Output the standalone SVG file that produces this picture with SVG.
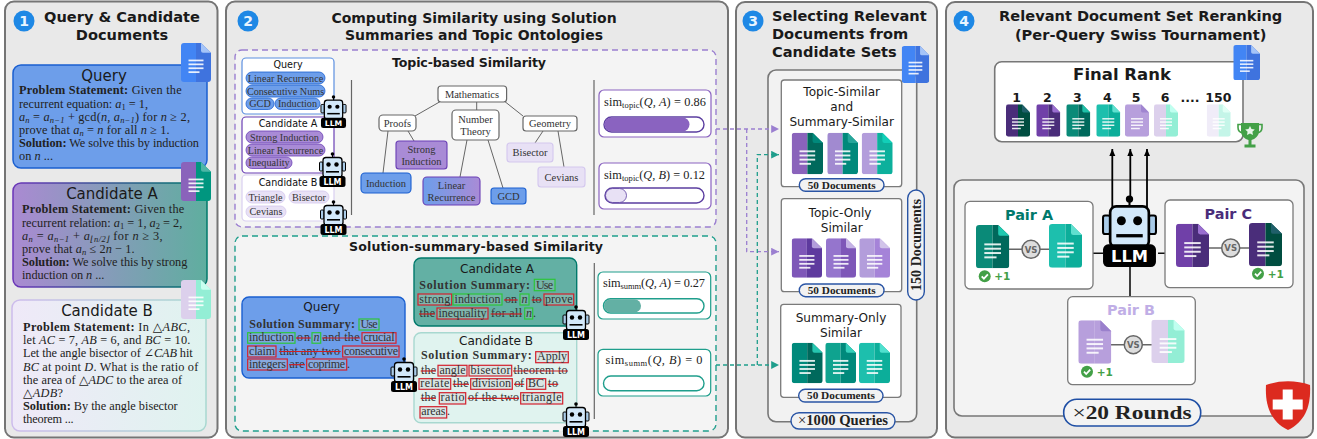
<svg xmlns="http://www.w3.org/2000/svg" width="1317" height="439" viewBox="0 0 1317 439">
<style>
text{font-family:"DejaVu Sans",sans-serif;fill:#1a1a1a}
.panel{fill:#e9e9e9;stroke:#757575;stroke-width:2}
.num{fill:#1e88e5}
.numt{fill:#e8f4ff;font-size:14px;font-weight:bold;text-anchor:middle}
.ttl{font-size:14px;font-weight:bold;text-anchor:middle}
.ttlb{font-size:14.6px;font-weight:bold;text-anchor:middle}
.ttl3{font-size:14.6px;font-weight:bold}
.h{font-size:15px;text-anchor:middle}
.h2{font-size:12.1px;text-anchor:middle}
.sub{font-size:12.6px;font-weight:bold;text-anchor:middle}
.s{font-family:"Liberation Serif","DejaVu Serif",serif;font-size:12.3px;fill:#222}
.b{font-weight:bold}
.i{font-style:italic}
.u{font-size:8.5px}
.tag{font-size:9.6px;text-anchor:middle;fill:#111}
.p{font-family:"Liberation Serif","DejaVu Serif",serif;font-size:10.2px;text-anchor:middle;fill:#333}
.n{font-family:"Liberation Serif","DejaVu Serif",serif;font-size:10.5px;text-anchor:middle;fill:#333}
.wg{fill:#b8c4b8;fill-opacity:.22;stroke:#2cc53a;stroke-width:1.2}
.wr{fill:#c8c8c8;fill-opacity:.3;stroke:#d3212d;stroke-width:1.2}
.st{stroke:#cc1f25;stroke-width:1.2}
.w{font-family:"Liberation Serif","DejaVu Serif",serif;font-size:12px;fill:#333}
.box{fill:#fff;stroke:#7a7a7a;stroke-width:1.3}
.tn{fill:#fff;stroke:#666;stroke-width:1.2}
.dv{stroke:#666;stroke-width:1.2}
.ed{stroke:#666;stroke-width:1}
.pl{fill:#f2f2f2;stroke:#2a55a5;stroke-width:1.4}
.plt{font-family:"Liberation Serif","DejaVu Serif",serif;font-weight:bold;text-anchor:middle;fill:#222}
.vs{fill:#ddd;stroke:#666;stroke-width:1.5}
.vst{font-size:8.5px;font-weight:bold;text-anchor:middle;fill:#666}
.vl{stroke:#666;stroke-width:1.5}
.pt{font-size:14.4px;font-weight:bold;text-anchor:middle}
.pls{font-size:10.5px;font-weight:bold;fill:#43a047}
.chk{fill:#43a047}
.cm{fill:none;stroke:#fff;stroke-width:1.8}
.arr{stroke:#000;stroke-width:1.8;fill:none}
.rl{stroke:#111;stroke-width:1.6}
</style>
<defs>
<symbol id="doc" viewBox="0 0 30 40" preserveAspectRatio="none">
<path d="M3 0H15V40H3a3 3 0 0 1-3-3V3a3 3 0 0 1 3-3z" style="fill:var(--l)"/>
<path d="M15 0H20L30 10V37a3 3 0 0 1-3 3H15z" style="fill:var(--r)"/>
<path d="M20 0L30 10H22a2 2 0 0 1-2-2z" style="fill:var(--f)"/>
<g fill="#fff" fill-opacity=".88"><rect x="7.5" y="17" width="15" height="1.8"/><rect x="7.5" y="21" width="15" height="1.8"/><rect x="7.5" y="25" width="15" height="1.8"/><rect x="7.5" y="29" width="11" height="1.8"/></g>
</symbol>
<symbol id="bot" viewBox="0 0 28 35" preserveAspectRatio="none">
<path d="M14 2V6" stroke="#000" stroke-width="1"/><circle cx="14" cy="2" r="1.8" fill="#000"/>
<rect x="1" y="10" width="3.5" height="9" rx="1" fill="#a9cbe8" stroke="#000"/><rect x="23.5" y="10" width="3.5" height="9" rx="1" fill="#a9cbe8" stroke="#000"/>
<rect x="4.5" y="5.5" width="19" height="20" rx="3" fill="#d2e8fa" stroke="#000" stroke-width="1.3"/>
<circle cx="10" cy="12.5" r="2.2" fill="#000"/><circle cx="18" cy="12.5" r="2.2" fill="#000"/><rect x="7.5" y="19" width="13" height="1.6" fill="#000"/>
<rect x="1" y="24" width="26" height="11" rx="2.5" fill="#000"/>
<text x="14" y="32.6" style="font-size:8px;font-weight:bold;fill:#fff;text-anchor:middle">LLM</text>
</symbol>
<linearGradient id="ga"><stop offset="0" stop-color="#aa8ad2"/><stop offset="1" stop-color="#5fae9f"/></linearGradient>
<linearGradient id="gas"><stop offset="0" stop-color="#6a35b8"/><stop offset="1" stop-color="#00796b"/></linearGradient>
<linearGradient id="gb"><stop offset="0" stop-color="#efe9f8"/><stop offset="1" stop-color="#dff3ef"/></linearGradient>
<linearGradient id="gbs"><stop offset="0" stop-color="#cdbcec"/><stop offset="1" stop-color="#a8d8d0"/></linearGradient>
<linearGradient id="gl"><stop offset="0" stop-color="#6d9eea"/><stop offset="1" stop-color="#a98bd6"/></linearGradient>
<marker id="ap" markerWidth="7" markerHeight="6" refX="6" refY="3" orient="auto"><path d="M0 0L6 3L0 6z" fill="#9b7fd0"/></marker>
<marker id="at" markerWidth="7" markerHeight="6" refX="6" refY="3" orient="auto"><path d="M0 0L6 3L0 6z" fill="#1f9e8c"/></marker>
<marker id="ab" markerWidth="8" markerHeight="7" refX="7" refY="3" orient="auto" markerUnits="userSpaceOnUse"><path d="M0 0L7 3L0 6z" fill="#000"/></marker>
</defs>

<g id="panel1">
<rect class="panel" x="5" y="1.5" width="212.5" height="436" rx="9"/>
<circle class="num" cx="24" cy="21" r="10.5"/><text class="numt" x="24" y="26">1</text>
<text class="ttlb" x="122" y="22">Query &amp; Candidate</text>
<text class="ttlb" x="122" y="40">Documents</text>
</g>
<g id="node-query">
<rect x="13" y="65" width="194" height="103" rx="8" fill="#6d9eea" stroke="#1a5fd0" stroke-width="1.5"/>
<text class="h" x="104" y="81">Query</text>
<text class="s" x="19" y="94" textLength="162.7"><tspan class="b">Problem Statement:</tspan> Given the</text>
<text class="s" x="19" y="107.5" textLength="129">recurrent equation: <tspan class="i">a</tspan><tspan class="u" dy="2">1</tspan><tspan dy="-2"> = 1,</tspan></text>
<text class="s" x="19" y="120.5" textLength="171"><tspan class="i">a</tspan><tspan class="u i" dy="2">n</tspan><tspan dy="-2"> = </tspan><tspan class="i">a</tspan><tspan class="u i" dy="2">n−1</tspan><tspan dy="-2"> + gcd(</tspan><tspan class="i">n, a</tspan><tspan class="u i" dy="2">n−1</tspan><tspan dy="-2">) for </tspan><tspan class="i">n</tspan> ≥ 2,</text>
<text class="s" x="19" y="134" textLength="150.7">prove that <tspan class="i">a</tspan><tspan class="u i" dy="2">n</tspan><tspan dy="-2"> = </tspan><tspan class="i">n</tspan> for all <tspan class="i">n</tspan> ≥ 1.</text>
<text class="s" x="19" y="147" textLength="180"><tspan class="b">Solution:</tspan> We solve this by induction</text>
<text class="s" x="19" y="160" textLength="34">on <tspan class="i">n</tspan> ...</text>
<use href="#doc" x="181" y="43" width="30" height="39" style="--l:#4285f4;--r:#3f73de;--f:#a5c4f8"/>
</g>
<g id="node-candidate-a">
<rect x="13" y="183" width="194" height="104" rx="8" fill="url(#ga)" stroke="url(#gas)" stroke-width="1.5"/>
<text class="h" x="112" y="199">Candidate A</text>
<text class="s" x="22" y="213" textLength="162.3"><tspan class="b">Problem Statement:</tspan> Given the</text>
<text class="s" x="22" y="226.7" textLength="160.3">recurrent relation: <tspan class="i">a</tspan><tspan class="u" dy="2">1</tspan><tspan dy="-2"> = 1, </tspan><tspan class="i">a</tspan><tspan class="u" dy="2">2</tspan><tspan dy="-2"> = 2,</tspan></text>
<text class="s" x="22" y="240" textLength="140.7"><tspan class="i">a</tspan><tspan class="u i" dy="2">n</tspan><tspan dy="-2"> = </tspan><tspan class="i">a</tspan><tspan class="u i" dy="2">n−1</tspan><tspan dy="-2"> + </tspan><tspan class="i">a</tspan><tspan class="u i" dy="2">⌊n/2⌋</tspan><tspan dy="-2"> for </tspan><tspan class="i">n</tspan> ≥ 3,</text>
<text class="s" x="22" y="252.7" textLength="112.7">prove that <tspan class="i">a</tspan><tspan class="u i" dy="2">n</tspan><tspan dy="-2"> ≤ 2</tspan><tspan class="i">n</tspan> − 1.</text>
<text class="s" x="22" y="265.7" textLength="165.3"><tspan class="b">Solution:</tspan> We solve this by strong</text>
<text class="s" x="22" y="278.7" textLength="82.3">induction on <tspan class="i">n</tspan> ...</text>
<use href="#doc" x="181" y="162" width="30" height="39" style="--l:#8a63bb;--r:#00967f;--f:#4db6a6"/>
</g>
<g id="node-candidate-b">
<rect x="12" y="300" width="194" height="131" rx="8" fill="url(#gb)" stroke="url(#gbs)" stroke-width="1.5"/>
<text class="h" x="107" y="316">Candidate B</text>
<text class="s" x="23" y="331" textLength="167"><tspan class="b">Problem Statement:</tspan> In △<tspan class="i">ABC</tspan>,</text>
<text class="s" x="23" y="344.3" textLength="167.3">let <tspan class="i">AC</tspan> = 7, <tspan class="i">AB</tspan> = 6, and <tspan class="i">BC</tspan> = 10.</text>
<text class="s" x="23" y="357.3" textLength="169.7">Let the angle bisector of ∠<tspan class="i">CAB</tspan> hit</text>
<text class="s" x="23" y="370.7" textLength="175.3"><tspan class="i">BC</tspan> at point <tspan class="i">D</tspan>. What is the ratio of</text>
<text class="s" x="23" y="383.7" textLength="159">the area of △<tspan class="i">ADC</tspan> to the area of</text>
<text class="s" x="23" y="396.7" textLength="40">△<tspan class="i">ADB</tspan>?</text>
<text class="s" x="23" y="410" textLength="154.7"><tspan class="b">Solution:</tspan> By the angle bisector</text>
<text class="s" x="23" y="423" textLength="50.7">theorem ...</text>
<use href="#doc" x="181" y="280" width="30" height="39" style="--l:#dcd0ec;--r:#93eed5;--f:#c8fff0"/>
</g>

<g id="panel2">
<rect class="panel" x="226" y="1.5" width="502" height="436" rx="9"/>
<circle class="num" cx="248" cy="21" r="10.5"/><text class="numt" x="248" y="26">2</text>
<text class="ttl" x="474" y="23">Computing Similarity using Solution</text>
<text class="ttl" x="474" y="40">Summaries and Topic Ontologies</text>
<rect x="235" y="50" width="481" height="177" rx="7" fill="#f4f4f4" stroke="#9b7fd0" stroke-width="1.4" stroke-dasharray="6 4"/>
<rect x="235" y="236" width="481" height="195" rx="7" fill="#f4f4f4" stroke="#1f9e8c" stroke-width="1.4" stroke-dasharray="6 4"/>
<text class="sub" x="469" y="66.5" textLength="154">Topic-based Similarity</text>
<text class="sub" x="476" y="251" textLength="254">Solution-summary-based Similarity</text>
<path class="dv" d="M351.5 80V215M594 80V215M594.3 263V419" fill="none"/>
</g>
<g id="tags-query">
<rect x="242" y="58" width="92" height="56" rx="4" fill="#fff" stroke="#5c8fe0" stroke-width="1.2"/>
<text class="tag" x="288" y="68">Query</text>
<g fill="#6d9eea" stroke="#1a5fd0" stroke-width=".8">
<rect x="246" y="72" width="79" height="12" rx="6"/><rect x="246" y="85" width="79" height="12" rx="6"/><rect x="246" y="98" width="28" height="11.5" rx="5.7"/><rect x="275" y="98" width="45" height="11.5" rx="5.7"/></g>
<text class="p" x="285.5" y="81.500">Linear Recurrence</text><text class="p" x="285.5" y="94.500">Consecutive Nums</text><text class="p" x="260" y="107">GCD</text><text class="p" x="297.5" y="107">Induction</text>
</g>
<g id="tags-candidate-a">
<rect x="242" y="117" width="92" height="56" rx="4" fill="#fff" stroke="#6a3fb5" stroke-width="1.2"/>
<text class="tag" x="288" y="127">Candidate A</text>
<g fill="#a98bd6" stroke="#6a3fb5" stroke-width=".8">
<rect x="246" y="131" width="77" height="12" rx="6"/><rect x="246" y="144" width="79" height="12" rx="6"/><rect x="246" y="157" width="46" height="11.5" rx="5.7"/></g>
<text class="p" x="284.5" y="140.500">Strong Induction</text><text class="p" x="285.5" y="153.500">Linear Recurrence</text><text class="p" x="269" y="166">Inequality</text>
</g>
<g id="tags-candidate-b">
<rect x="242" y="175" width="92" height="46" rx="4" fill="#fff" stroke="#d9cff0" stroke-width="1.2"/>
<text class="tag" x="288" y="186">Candidate B</text>
<g fill="#e8e1f5" stroke="#d3c7ee" stroke-width=".8">
<rect x="246" y="191" width="39" height="12" rx="6"/><rect x="289" y="191" width="40" height="12" rx="6"/><rect x="246" y="206" width="40" height="11.5" rx="5.7"/></g>
<text class="p" x="265.5" y="200.500">Triangle</text><text class="p" x="309" y="200.500">Bisector</text><text class="p" x="266" y="215">Cevians</text>
</g>
<use id="bot-query-tags" href="#bot" x="320" y="95" width="27" height="33"/>
<use id="bot-a-tags" href="#bot" x="318.5" y="152" width="28" height="35"/>
<use id="bot-b-tags" href="#bot" x="319.5" y="200" width="28" height="35"/>

<g id="tree-edges">
<path class="ed" d="M440 101.7L415 116M476.7 102V110M505 101.7L523 116M388 131L383 173M408 131L414 141M467 140L460 177M488 140L503 188M543 131L535 143M558 131L564 167"/>
</g>
<g id="node-mathematics"><rect class="tn" x="438" y="86" width="68.600" height="16" rx="3"/><text class="n" x="472" y="97.500">Mathematics</text></g>
<g id="node-proofs"><rect class="tn" x="379" y="115" width="37" height="16" rx="4"/><text class="n" x="397.500" y="126.500">Proofs</text></g>
<g id="node-number-theory"><rect class="tn" x="452" y="110" width="47" height="30" rx="4"/><text class="n" x="475.500" y="122.500">Number</text><text class="n" x="475.500" y="134.500">Theory</text></g>
<g id="node-geometry"><rect class="tn" x="523" y="116" width="54" height="15" rx="3"/><text class="n" x="550" y="127">Geometry</text></g>
<g id="node-strong-induction"><rect x="396" y="141" width="51" height="28" rx="3" fill="#a98bd6" stroke="#6a3fb5" stroke-width="1.1"/><text class="n" x="421.500" y="153">Strong</text><text class="n" x="421.500" y="165">Induction</text></g>
<g id="node-induction"><rect x="361" y="173" width="50" height="20" rx="4" fill="#6d9eea" stroke="#1a5fd0" stroke-width="1.1"/><text class="n" x="386" y="186.500">Induction</text></g>
<g id="node-linear-recurrence"><rect x="423" y="177" width="57" height="28" rx="4" fill="url(#gl)" stroke="#6a3fb5" stroke-width="1.1"/><text class="n" x="451.500" y="189">Linear</text><text class="n" x="451.500" y="201">Recurrence</text></g>
<g id="node-gcd"><rect x="491" y="188" width="35" height="16" rx="3" fill="#6d9eea" stroke="#1a5fd0" stroke-width="1.1"/><text class="n" x="508.500" y="199.500">GCD</text></g>
<g id="node-bisector"><rect x="507" y="143" width="46" height="19" rx="3" fill="#e8e1f5" stroke="#d3c7ee" stroke-width="1.1"/><text class="n" x="530" y="156">Bisector</text></g>
<g id="node-cevians"><rect x="538" y="167" width="47" height="20" rx="3" fill="#e8e1f5" stroke="#d3c7ee" stroke-width="1.1"/><text class="n" x="561.500" y="180.500">Cevians</text></g>

<g id="sim-topic-a">
<rect x="599" y="90" width="112" height="47" rx="5" fill="#fff" stroke="#8a63c0" stroke-width="1.2"/>
<text class="s" x="604" y="105.700" textLength="102">sim<tspan class="u" dy="2">topic</tspan><tspan dy="-2">(</tspan><tspan class="i">Q, A</tspan>) = 0.86</text>
<rect x="604" y="117" width="100" height="15" rx="7.500" fill="#fff" stroke="#5b3ea0" stroke-width="1.4"/>
<rect x="604.500" y="117.500" width="85" height="14" rx="7" fill="#8a63c0"/>
</g>
<g id="sim-topic-b">
<rect x="599" y="163" width="112" height="46" rx="5" fill="#fff" stroke="#8a63c0" stroke-width="1.2"/>
<text class="s" x="604" y="179" textLength="101">sim<tspan class="u" dy="2">topic</tspan><tspan dy="-2">(</tspan><tspan class="i">Q, B</tspan>) = 0.12</text>
<rect x="605" y="188" width="99" height="15" rx="7.500" fill="#fff" stroke="#5b3ea0" stroke-width="1.4"/>
<rect x="605.500" y="188.500" width="21" height="14" rx="7" fill="#e8e1f5" stroke="#5b3ea0" stroke-width=".8"/>
</g>
<g id="sim-summ-a">
<rect x="598" y="272" width="112.700" height="47" rx="5" fill="#fff" stroke="#1f9e8c" stroke-width="1.2"/>
<text class="s" x="603" y="287" textLength="102">sim<tspan class="u" dy="2">summ</tspan><tspan dy="-2">(</tspan><tspan class="i">Q, A</tspan>) = 0.27</text>
<rect x="603.500" y="298.700" width="100.500" height="14.300" rx="7.100" fill="#fff" stroke="#1f9e8c" stroke-width="1.4"/>
<rect x="604" y="299.200" width="37" height="13.300" rx="6.600" fill="#63b0a4"/>
</g>
<g id="sim-summ-b">
<rect x="598" y="349.300" width="112.700" height="46.700" rx="5" fill="#fff" stroke="#1f9e8c" stroke-width="1.2"/>
<text class="s" x="605.500" y="364" textLength="97">sim<tspan class="u" dy="2">summ</tspan><tspan dy="-2">(</tspan><tspan class="i">Q, B</tspan>) = 0</text>
<rect x="603.500" y="376" width="100.500" height="14.700" rx="7.300" fill="#fff" stroke="#1f9e8c" stroke-width="1.4"/>
</g>

<g id="summary-query">
<rect x="242" y="297" width="163" height="81" rx="7" fill="#6d9eea" stroke="#1a5fd0" stroke-width="1.4"/>
<text class="h2" x="321.600" y="311">Query</text>
<text class="w b" x="249.300" y="328" textLength="105.700">Solution Summary:</text>
<rect class="wg" x="359" y="319" width="20" height="11"/><text class="w" x="360.500" y="328" textLength="17">Use</text>
<rect class="wg" x="247.700" y="332.700" width="47.300" height="10.500"/><text class="w" x="249" y="341" textLength="45">induction</text>
<text class="w" x="297" y="341" textLength="13">on</text><path class="st" d="M296 338H310.700"/>
<rect class="wg" x="312" y="332.700" width="8.700" height="10.500"/><text class="w i" x="313.500" y="341">n</text>
<text class="w" x="322.500" y="341" textLength="37">and the</text><path class="st" d="M322 338H360"/>
<rect class="wr" x="362" y="332.700" width="34" height="10.500"/><text class="w" x="363.500" y="341" textLength="31">crucial</text>
<rect class="wr" x="247.700" y="346" width="28.300" height="11"/><text class="w" x="249" y="354.500" textLength="26">claim</text>
<text class="w" x="279.500" y="354.500" textLength="60.500">that any two</text><path class="st" d="M279 351.500H340.700"/>
<rect class="wr" x="342.700" y="346" width="56.300" height="11"/><text class="w" x="344" y="354.500" textLength="54">consecutive</text>
<rect class="wr" x="247.700" y="359" width="39.600" height="11"/><text class="w" x="249" y="367.700" textLength="37">integers</text>
<text class="w" x="289.500" y="367.700" textLength="15">are</text><path class="st" d="M289 364.700H305"/>
<rect class="wr" x="306.700" y="359" width="40" height="11"/><text class="w" x="308" y="367.700" textLength="37">coprime</text><text class="w" x="347" y="367.700">.</text>
</g>
<g id="summary-candidate-a">
<rect x="414" y="258" width="162.700" height="68" rx="7" fill="#63b0a4" stroke="#00796b" stroke-width="1.4"/>
<text class="h2" x="497" y="273">Candidate A</text>
<text class="w b" x="419.300" y="288.700" textLength="110.700">Solution Summary:</text>
<rect class="wg" x="534.300" y="279.300" width="20.700" height="11.400"/><text class="w" x="536" y="288.700" textLength="17">Use</text>
<rect class="wr" x="418" y="294" width="33.700" height="11"/><text class="w" x="419.300" y="303" textLength="31">strong</text>
<rect class="wg" x="453" y="294" width="49" height="11"/><text class="w" x="454.500" y="303" textLength="46">induction</text>
<text class="w" x="505" y="303" textLength="12">on</text><path class="st" d="M504 300H517.700"/>
<rect class="wg" x="520" y="294" width="9" height="11"/><text class="w i" x="521.500" y="303">n</text>
<text class="w" x="532" y="303" textLength="9.500">to</text><path class="st" d="M531.700 300H541.700"/>
<rect class="wr" x="544" y="294" width="29.700" height="11"/><text class="w" x="545" y="303" textLength="27.500">prove</text>
<text class="w" x="419.500" y="317" textLength="15.500">the</text><path class="st" d="M419 314H435"/>
<rect class="wr" x="437" y="308" width="51" height="11"/><text class="w" x="438.500" y="317" textLength="48">inequality</text>
<text class="w" x="491" y="317" textLength="31">for all</text><path class="st" d="M490.700 314H522"/>
<rect class="wg" x="524.700" y="308" width="8" height="11"/><text class="w i" x="526" y="317">n</text><text class="w" x="533" y="317">.</text>
</g>
<g id="summary-candidate-b">
<rect x="414" y="332.700" width="162.700" height="90" rx="7" fill="#e0f3ef" stroke="#a8d8d0" stroke-width="1.4"/>
<text class="h2" x="496" y="345">Candidate B</text>
<text class="w b" x="421" y="359.300" textLength="110.700">Solution Summary:</text>
<rect class="wr" x="535.700" y="351.700" width="32.600" height="11"/><text class="w" x="537" y="360" textLength="30">Apply</text>
<text class="w" x="421" y="374" textLength="15">the</text><path class="st" d="M420.700 371H436"/>
<rect class="wr" x="438" y="365.300" width="29" height="10.700"/><text class="w" x="439.500" y="374" textLength="26">angle</text>
<rect class="wr" x="469" y="365.300" width="42.700" height="10.700"/><text class="w" x="470.500" y="374" textLength="40">bisector</text>
<text class="w" x="513.500" y="374" textLength="54">theorem to</text><path class="st" d="M513 371H568"/>
<rect class="wr" x="419" y="378.700" width="31.700" height="10.600"/><text class="w" x="420.300" y="387.300" textLength="29">relate</text>
<text class="w" x="453" y="387.300" textLength="15.500">the</text><path class="st" d="M452.700 384.300H469"/>
<rect class="wr" x="470.700" y="378.700" width="41.600" height="10.600"/><text class="w" x="472" y="387.300" textLength="39">division</text>
<text class="w" x="514.500" y="387.300" textLength="9.500">of</text><path class="st" d="M514 384.300H524.300"/>
<rect class="wr" x="526.700" y="378.700" width="19" height="10.600"/><text class="w" x="528" y="387.300" textLength="16">BC</text>
<text class="w" x="548" y="387.300" textLength="10">to</text><path class="st" d="M547.700 384.300H558.300"/>
<text class="w" x="421" y="401.300" textLength="15">the</text><path class="st" d="M420.700 398.300H436"/>
<rect class="wr" x="439.300" y="392.700" width="26.400" height="11.300"/><text class="w" x="440.600" y="401.300" textLength="24">ratio</text>
<text class="w" x="468" y="401.300" textLength="51">of the two</text><path class="st" d="M467.700 398.300H519"/>
<rect class="wr" x="520.700" y="392.700" width="42" height="11.300"/><text class="w" x="522" y="401.300" textLength="39.500">triangle</text>
<rect class="wr" x="420" y="406.700" width="26.700" height="11.300"/><text class="w" x="421.300" y="415.300" textLength="24">areas</text><text class="w" x="447" y="415.300">.</text>
</g>
<use id="bot-query-sum" href="#bot" x="390" y="357" width="28" height="35"/>
<use id="bot-a-sum" href="#bot" x="562" y="305" width="28" height="35"/>
<use id="bot-b-sum" href="#bot" x="562" y="402" width="28" height="35"/>

<g id="panel3">
<rect class="panel" x="736" y="2" width="201" height="435.500" rx="9"/>
<circle class="num" cx="753" cy="21" r="10.500"/><text class="numt" x="753" y="26">3</text>
<text class="ttl3" x="772" y="21">Selecting Relevant</text>
<text class="ttl3" x="772" y="39">Documents from</text>
<text class="ttl3" x="772" y="57">Candidate Sets</text>
<rect x="768" y="70" width="148.700" height="351.700" rx="8" fill="#f2f2f2" stroke="#777" stroke-width="1.6"/>
<use href="#doc" x="901.700" y="46" width="27.500" height="37" style="--l:#4285f4;--r:#3f73de;--f:#a5c4f8"/>
</g>
<g id="node-topic-summary">
<rect class="box" x="781.300" y="80" width="120.400" height="106.700" rx="3"/>
<text class="h2" x="841.700" y="96">Topic-Similar</text><text class="h2" x="841.700" y="111">and</text><text class="h2" x="841.700" y="126">Summary-Similar</text>
<use href="#doc" x="791.700" y="132.700" width="31.300" height="41.600" style="--l:#8a63bb;--r:#00695c;--f:#00897b"/>
<use href="#doc" x="827.300" y="132.700" width="30.700" height="41.600" style="--l:#a18ad0;--r:#00897b;--f:#26a69a"/>
<use href="#doc" x="861.700" y="132.700" width="31" height="41.600" style="--l:#b39ddb;--r:#0cb09c;--f:#12cfb8"/>
<rect class="pl" x="799.300" y="178.700" width="84.700" height="12.600" rx="6.300"/><text class="plt" x="841.700" y="188.500" font-size="10.500" textLength="68" lengthAdjust="spacingAndGlyphs">50 Documents</text>
</g>
<g id="node-topic-only">
<rect class="box" x="781.300" y="198.700" width="120.400" height="93" rx="3"/>
<text class="h2" x="840" y="217">Topic-Only</text><text class="h2" x="841.700" y="231.500">Similar</text>
<use href="#doc" x="791.700" y="238.300" width="30.300" height="39.400" style="--l:#7e57b8;--r:#5e3a9e;--f:#b39ddb"/>
<use href="#doc" x="826" y="238.300" width="30" height="39.400" style="--l:#9575cd;--r:#7e57b8;--f:#c5b3e6"/>
<use href="#doc" x="859.300" y="238.300" width="30.700" height="39.400" style="--l:#b39ddb;--r:#a583d8;--f:#d1c4e9"/>
<rect class="pl" x="799.300" y="284" width="84.700" height="12.700" rx="6.300"/><text class="plt" x="841.700" y="293.800" font-size="10.500" textLength="68" lengthAdjust="spacingAndGlyphs">50 Documents</text>
</g>
<g id="node-summary-only">
<rect class="box" x="780.700" y="304.300" width="120.300" height="93" rx="3"/>
<text class="h2" x="841" y="322">Summary-Only</text><text class="h2" x="841" y="337">Similar</text>
<use href="#doc" x="791.700" y="342.700" width="31" height="40.600" style="--l:#00897b;--r:#00695c;--f:#26c6b0"/>
<use href="#doc" x="825.300" y="342.700" width="30.700" height="40.600" style="--l:#0fa38f;--r:#00897b;--f:#35d0bb"/>
<use href="#doc" x="859" y="342.700" width="31" height="40.600" style="--l:#1dbfad;--r:#0cae9a;--f:#4fe0ce"/>
<rect class="pl" x="798.700" y="389.300" width="84.300" height="12.700" rx="6.300"/><text class="plt" x="841" y="399" font-size="10.500" textLength="68" lengthAdjust="spacingAndGlyphs">50 Documents</text>
</g>
<g id="label-1000"><rect class="pl" x="791" y="412.700" width="104" height="16.300" rx="8"/><text class="plt" x="843" y="425.200" font-size="14" textLength="90" lengthAdjust="spacingAndGlyphs"><tspan font-weight="normal">×</tspan>1000 Queries</text></g>
<g id="label-150"><rect class="pl" x="907.700" y="190" width="16.600" height="110" rx="8.300"/><text class="plt" transform="translate(920.500 245) rotate(-90)" font-size="14" textLength="92" lengthAdjust="spacingAndGlyphs">150 Documents</text></g>

<g id="panel4">
<rect class="panel" x="946" y="2" width="367" height="435.500" rx="9"/>
<circle class="num" cx="964" cy="21" r="10.500"/><text class="numt" x="964" y="26">4</text>
<text class="ttlb" x="1140.700" y="21">Relevant Document Set Reranking</text>
<text class="ttlb" x="1140.700" y="40">(Per-Query Swiss Tournament)</text>
</g>
<g id="node-final-rank">
<rect x="994.700" y="61.700" width="248.300" height="80" rx="7" fill="#fff" stroke="#777" stroke-width="1.6"/>
<text x="1122" y="80" style="font-size:16.500px;font-weight:bold;text-anchor:middle">Final Rank</text>
<g style="font-size:12.500px;font-weight:bold;text-anchor:middle">
<text x="1016.700" y="102">1</text><text x="1047.300" y="102">2</text><text x="1077.300" y="102">3</text><text x="1107.300" y="102">4</text><text x="1136" y="102">5</text><text x="1165" y="102">6</text><text x="1190" y="102">....</text><text x="1218.300" y="102">150</text></g>
<use href="#doc" x="1006" y="104.300" width="24" height="32.400" style="--l:#4a2d7a;--r:#004d40;--f:#1f5f6a"/>
<use href="#doc" x="1036.300" y="104.300" width="24" height="32.400" style="--l:#7040a8;--r:#4a2d7a;--f:#9a6fd0"/>
<use href="#doc" x="1066.300" y="104.300" width="24" height="32.400" style="--l:#0a8a78;--r:#00695c;--f:#1fc0a8"/>
<use href="#doc" x="1096.300" y="104.300" width="24" height="32.400" style="--l:#1dbfad;--r:#0cae9a;--f:#5fe0cf"/>
<use href="#doc" x="1125" y="104.300" width="24" height="32.400" style="--l:#b79fdc;--r:#b79fdc;--f:#a085d0"/>
<use href="#doc" x="1154" y="104.300" width="24" height="32.400" style="--l:#dcd0ec;--r:#93eed5;--f:#c0fff0"/>
<use href="#doc" x="1206.700" y="104.300" width="24" height="32.400" style="--l:#f0ecf8;--r:#c4f5e8;--f:#e0fff5"/>
<use href="#doc" x="1233.300" y="45" width="26.700" height="35" style="--l:#4285f4;--r:#3f73de;--f:#a5c4f8"/>
<g id="trophy"><path d="M1238 124.500h24v3c0 3-2 5-5 5.500h-14c-3-.5-5-2.500-5-5.500z" fill="none" stroke="#43a047" stroke-width="1.600"/><path d="M1241 123h18v8c0 5-4 8-7.500 9v4.500h4v3h-11v-3h4V140c-3.500-1-7.500-4-7.500-9z" fill="#43a047"/><path d="M1250 126l1.500 3 3.300.4-2.400 2.300.6 3.300-3-1.600-3 1.600.6-3.300-2.400-2.300 3.300-.4z" fill="#e8f5e9"/></g>
</g>
<g id="rounds">
<rect x="954" y="180" width="350" height="236" rx="8" fill="#f3f3f3" stroke="#777" stroke-width="1.600"/>
</g>
<g id="connectors" fill="none">
<path d="M716 129H779" stroke="#9b7fd0" stroke-width="1.300" stroke-dasharray="4 3" marker-end="url(#ap)"/>
<path d="M746.700 129V251.700H779" stroke="#9b7fd0" stroke-width="1.300" stroke-dasharray="4 3" marker-end="url(#ap)"/>
<path d="M716 365H779" stroke="#1f9e8c" stroke-width="1.300" stroke-dasharray="4 3" marker-end="url(#at)"/>
<path d="M757.300 365V154.700H779" stroke="#1f9e8c" stroke-width="1.300" stroke-dasharray="4 3" marker-end="url(#at)"/>
<path class="arr" d="M1112.300 209V149" marker-end="url(#ab)"/>
<path class="arr" d="M1130.300 198V149" marker-end="url(#ab)"/>
<path class="arr" d="M1147 209V149" marker-end="url(#ab)"/>
<path class="rl" d="M1093 253.300H1103M1158 253.300H1165M1130 267V297"/>
</g>
<g id="node-pair-a">
<rect class="box" x="965" y="201.300" width="128" height="87.700" rx="5"/>
<text class="pt" x="1029" y="220" style="fill:#00796b">Pair A</text>
<path class="vl" d="M1009 249.300H1049"/>
<use href="#doc" x="976" y="225" width="33.300" height="43.300" style="--l:#0a8a78;--r:#00695c;--f:#20c9b0"/>
<use href="#doc" x="1049" y="224" width="33" height="43.700" style="--l:#1dbfad;--r:#0cae9a;--f:#5fe0cf"/>
<circle class="vs" cx="1031" cy="249.300" r="9"/><text class="vst" x="1031" y="252.500">VS</text>
<circle class="chk" cx="984.700" cy="276.300" r="6"/><path class="cm" d="M981.700 276.300l2.200 2.300 4-4.300"/><text class="pls" x="994.300" y="280">+1</text>
</g>
<g id="node-pair-c">
<rect class="box" x="1165" y="200" width="128" height="87.700" rx="5"/>
<text class="pt" x="1228.300" y="218.700" style="fill:#4a2d7a">Pair C</text>
<path class="vl" d="M1209 248H1249"/>
<use href="#doc" x="1176" y="223.700" width="33" height="43.300" style="--l:#7040a8;--r:#4a2d7a;--f:#9a6fd0"/>
<use href="#doc" x="1249" y="223" width="33" height="43.300" style="--l:#4a2d7a;--r:#004d40;--f:#1f5f6a"/>
<circle class="vs" cx="1230.700" cy="248" r="9"/><text class="vst" x="1230.700" y="251.200">VS</text>
<circle class="chk" cx="1258" cy="273.700" r="6"/><path class="cm" d="M1255 273.700l2.200 2.300 4-4.300"/><text class="pls" x="1267.700" y="277.500">+1</text>
</g>
<g id="node-pair-b">
<rect class="box" x="1067.700" y="296.700" width="127.600" height="88" rx="5"/>
<text class="pt" x="1131" y="315.300" style="fill:#c0aee6">Pair B</text>
<path class="vl" d="M1111 344.700H1152"/>
<use href="#doc" x="1078.300" y="320.300" width="33" height="43.400" style="--l:#b79fdc;--r:#b79fdc;--f:#9a80cc"/>
<use href="#doc" x="1151.300" y="319.700" width="33.400" height="43.300" style="--l:#dcd0ec;--r:#93eed5;--f:#c0fff0"/>
<circle class="vs" cx="1133.300" cy="344.700" r="9"/><text class="vst" x="1133.300" y="347.900">VS</text>
<circle class="chk" cx="1087" cy="371.700" r="6"/><path class="cm" d="M1084 371.700l2.200 2.300 4-4.300"/><text class="pls" x="1096.700" y="375.500">+1</text>
</g>
<use id="bot-main" href="#bot" x="1101" y="195" width="57" height="72"/>
<g id="label-rounds"><rect x="1063.700" y="399.300" width="137" height="26.700" rx="13" fill="#f3f3f3" stroke="#1f4fa5" stroke-width="1.600"/><text class="plt" x="1132" y="418.500" font-size="19" textLength="119" lengthAdjust="spacingAndGlyphs"><tspan font-weight="normal">×</tspan>20 Rounds</text></g>
<g id="swiss-shield"><path d="M1266 385c14-5 30-5 44 0 1 20-4 36-22 45-18-9-23-25-22-45z" fill="#dc2a1f"/><path d="M1282.700 389.500h10v10h10v10h-10v10h-10v-10h-10v-10h10z" fill="#fff"/></g>
</svg>
